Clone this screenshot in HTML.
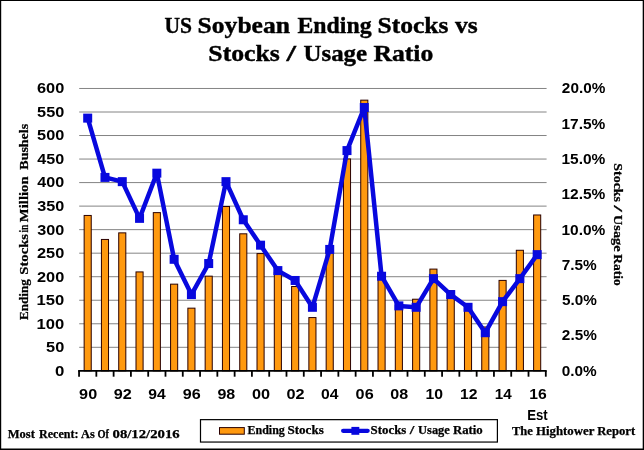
<!DOCTYPE html>
<html lang="en">
<head>
<meta charset="utf-8">
<title>US Soybean Ending Stocks vs Stocks / Usage Ratio</title>
<style>
html,body{margin:0;padding:0;background:#fff;}
body{width:644px;height:450px;overflow:hidden;}
svg{display:block;}
text{font-kerning:none;white-space:pre;}
.t{font-family:"Liberation Serif",serif;font-weight:bold;fill:#000;}
.h{stroke:#000;stroke-width:0.4px;}
.b{stroke:#000;stroke-width:0.25px;}
.n{font-family:"Liberation Sans",sans-serif;font-weight:bold;fill:#000;}
</style>
</head>
<body>
<svg width="644" height="450" viewBox="0 0 644 450">
<rect x="0" y="0" width="644" height="450" fill="#fff"/>
<g stroke="#848484" stroke-width="1">
<line x1="79.2" y1="347.30" x2="546.6" y2="347.30"/>
<line x1="79.2" y1="323.77" x2="546.6" y2="323.77"/>
<line x1="79.2" y1="300.24" x2="546.6" y2="300.24"/>
<line x1="79.2" y1="276.71" x2="546.6" y2="276.71"/>
<line x1="79.2" y1="253.18" x2="546.6" y2="253.18"/>
<line x1="79.2" y1="229.65" x2="546.6" y2="229.65"/>
<line x1="79.2" y1="206.12" x2="546.6" y2="206.12"/>
<line x1="79.2" y1="182.59" x2="546.6" y2="182.59"/>
<line x1="79.2" y1="159.06" x2="546.6" y2="159.06"/>
<line x1="79.2" y1="135.53" x2="546.6" y2="135.53"/>
<line x1="79.2" y1="112.00" x2="546.6" y2="112.00"/>
<line x1="79.2" y1="88.47" x2="546.6" y2="88.47"/>
</g>
<g fill="#ff990f" stroke="#2a0000" stroke-width="1">
<rect x="84.14" y="215.45" width="7.1" height="155.38"/>
<rect x="101.43" y="239.45" width="7.1" height="131.38"/>
<rect x="118.72" y="232.86" width="7.1" height="137.97"/>
<rect x="136.00" y="271.92" width="7.1" height="98.91"/>
<rect x="153.29" y="212.63" width="7.1" height="158.20"/>
<rect x="170.58" y="284.16" width="7.1" height="86.67"/>
<rect x="187.87" y="308.16" width="7.1" height="62.67"/>
<rect x="205.15" y="276.16" width="7.1" height="94.67"/>
<rect x="222.44" y="206.51" width="7.1" height="164.32"/>
<rect x="239.73" y="233.81" width="7.1" height="137.02"/>
<rect x="257.01" y="253.57" width="7.1" height="117.26"/>
<rect x="274.30" y="272.40" width="7.1" height="98.43"/>
<rect x="291.59" y="286.51" width="7.1" height="84.32"/>
<rect x="308.87" y="317.57" width="7.1" height="53.26"/>
<rect x="326.16" y="249.81" width="7.1" height="121.02"/>
<rect x="343.45" y="158.98" width="7.1" height="211.85"/>
<rect x="360.74" y="100.16" width="7.1" height="270.67"/>
<rect x="378.02" y="273.81" width="7.1" height="97.02"/>
<rect x="395.31" y="305.34" width="7.1" height="65.49"/>
<rect x="412.60" y="299.22" width="7.1" height="71.61"/>
<rect x="429.88" y="269.10" width="7.1" height="101.73"/>
<rect x="447.17" y="290.75" width="7.1" height="80.08"/>
<rect x="464.46" y="303.93" width="7.1" height="66.90"/>
<rect x="481.74" y="326.98" width="7.1" height="43.85"/>
<rect x="499.03" y="280.40" width="7.1" height="90.43"/>
<rect x="516.32" y="250.28" width="7.1" height="120.55"/>
<rect x="533.61" y="214.98" width="7.1" height="155.85"/>
</g>
<g stroke="#000" stroke-width="1.8">
<line x1="78.15" y1="370.83" x2="546.7" y2="370.83"/>
<line x1="79.05" y1="370.83" x2="79.05" y2="376.7"/>
<line x1="96.34" y1="370.83" x2="96.34" y2="376.7"/>
<line x1="113.62" y1="370.83" x2="113.62" y2="376.7"/>
<line x1="130.91" y1="370.83" x2="130.91" y2="376.7"/>
<line x1="148.20" y1="370.83" x2="148.20" y2="376.7"/>
<line x1="165.49" y1="370.83" x2="165.49" y2="376.7"/>
<line x1="182.77" y1="370.83" x2="182.77" y2="376.7"/>
<line x1="200.06" y1="370.83" x2="200.06" y2="376.7"/>
<line x1="217.35" y1="370.83" x2="217.35" y2="376.7"/>
<line x1="234.63" y1="370.83" x2="234.63" y2="376.7"/>
<line x1="251.92" y1="370.83" x2="251.92" y2="376.7"/>
<line x1="269.21" y1="370.83" x2="269.21" y2="376.7"/>
<line x1="286.49" y1="370.83" x2="286.49" y2="376.7"/>
<line x1="303.78" y1="370.83" x2="303.78" y2="376.7"/>
<line x1="321.07" y1="370.83" x2="321.07" y2="376.7"/>
<line x1="338.36" y1="370.83" x2="338.36" y2="376.7"/>
<line x1="355.64" y1="370.83" x2="355.64" y2="376.7"/>
<line x1="372.93" y1="370.83" x2="372.93" y2="376.7"/>
<line x1="390.22" y1="370.83" x2="390.22" y2="376.7"/>
<line x1="407.50" y1="370.83" x2="407.50" y2="376.7"/>
<line x1="424.79" y1="370.83" x2="424.79" y2="376.7"/>
<line x1="442.08" y1="370.83" x2="442.08" y2="376.7"/>
<line x1="459.36" y1="370.83" x2="459.36" y2="376.7"/>
<line x1="476.65" y1="370.83" x2="476.65" y2="376.7"/>
<line x1="493.94" y1="370.83" x2="493.94" y2="376.7"/>
<line x1="511.22" y1="370.83" x2="511.22" y2="376.7"/>
<line x1="528.51" y1="370.83" x2="528.51" y2="376.7"/>
<line x1="545.80" y1="370.83" x2="545.80" y2="376.7"/>
</g>
<polyline points="87.69,118.12 104.98,177.41 122.27,181.65 139.55,218.36 156.84,173.18 174.13,259.30 191.42,294.59 208.70,263.53 225.99,181.65 243.28,219.77 260.56,245.18 277.85,270.59 295.14,280.47 312.42,307.30 329.71,249.42 347.00,150.59 364.29,107.53 381.57,276.24 398.86,305.89 416.15,307.30 433.43,278.64 450.72,294.59 468.01,307.30 485.29,332.71 502.58,301.65 519.87,278.64 537.16,254.64" fill="none" stroke="#0808de" stroke-width="4.5" stroke-linejoin="round" stroke-linecap="round"/>
<g fill="#0808de">
<rect x="83.19" y="113.62" width="9" height="9"/>
<rect x="100.48" y="172.91" width="9" height="9"/>
<rect x="117.77" y="177.15" width="9" height="9"/>
<rect x="135.05" y="213.86" width="9" height="9"/>
<rect x="152.34" y="168.68" width="9" height="9"/>
<rect x="169.63" y="254.80" width="9" height="9"/>
<rect x="186.92" y="290.09" width="9" height="9"/>
<rect x="204.20" y="259.03" width="9" height="9"/>
<rect x="221.49" y="177.15" width="9" height="9"/>
<rect x="238.78" y="215.27" width="9" height="9"/>
<rect x="256.06" y="240.68" width="9" height="9"/>
<rect x="273.35" y="266.09" width="9" height="9"/>
<rect x="290.64" y="275.97" width="9" height="9"/>
<rect x="307.92" y="302.80" width="9" height="9"/>
<rect x="325.21" y="244.92" width="9" height="9"/>
<rect x="342.50" y="146.09" width="9" height="9"/>
<rect x="359.79" y="103.03" width="9" height="9"/>
<rect x="377.07" y="271.74" width="9" height="9"/>
<rect x="394.36" y="301.39" width="9" height="9"/>
<rect x="411.65" y="302.80" width="9" height="9"/>
<rect x="428.93" y="274.14" width="9" height="9"/>
<rect x="446.22" y="290.09" width="9" height="9"/>
<rect x="463.51" y="302.80" width="9" height="9"/>
<rect x="480.79" y="328.21" width="9" height="9"/>
<rect x="498.08" y="297.15" width="9" height="9"/>
<rect x="515.37" y="274.14" width="9" height="9"/>
<rect x="532.66" y="250.14" width="9" height="9"/>
</g>
<text class="n" font-size="15.5" x="54.93" y="375.73" textLength="9.36" lengthAdjust="spacingAndGlyphs">0</text>
<text class="n" font-size="15.5" x="46.10" y="352.20" textLength="18.17" lengthAdjust="spacingAndGlyphs">50</text>
<text class="n" font-size="15.5" x="36.55" y="328.67" textLength="27.73" lengthAdjust="spacingAndGlyphs">100</text>
<text class="n" font-size="15.5" x="36.55" y="305.14" textLength="27.73" lengthAdjust="spacingAndGlyphs">150</text>
<text class="n" font-size="15.5" x="37.03" y="281.61" textLength="27.24" lengthAdjust="spacingAndGlyphs">200</text>
<text class="n" font-size="15.5" x="37.03" y="258.08" textLength="27.24" lengthAdjust="spacingAndGlyphs">250</text>
<text class="n" font-size="15.5" x="37.23" y="234.55" textLength="27.04" lengthAdjust="spacingAndGlyphs">300</text>
<text class="n" font-size="15.5" x="37.23" y="211.02" textLength="27.04" lengthAdjust="spacingAndGlyphs">350</text>
<text class="n" font-size="15.5" x="37.36" y="187.49" textLength="26.91" lengthAdjust="spacingAndGlyphs">400</text>
<text class="n" font-size="15.5" x="37.36" y="163.96" textLength="26.91" lengthAdjust="spacingAndGlyphs">450</text>
<text class="n" font-size="15.5" x="37.10" y="140.43" textLength="27.17" lengthAdjust="spacingAndGlyphs">500</text>
<text class="n" font-size="15.5" x="37.10" y="116.90" textLength="27.17" lengthAdjust="spacingAndGlyphs">550</text>
<text class="n" font-size="15.5" x="37.00" y="93.37" textLength="27.27" lengthAdjust="spacingAndGlyphs">600</text>
<text class="n" font-size="15.5" x="561.79" y="375.73" textLength="35.01" lengthAdjust="spacingAndGlyphs">0.0%</text>
<text class="n" font-size="15.5" x="561.87" y="340.43" textLength="34.94" lengthAdjust="spacingAndGlyphs">2.5%</text>
<text class="n" font-size="15.5" x="561.93" y="305.14" textLength="34.87" lengthAdjust="spacingAndGlyphs">5.0%</text>
<text class="n" font-size="15.5" x="561.74" y="269.84" textLength="35.07" lengthAdjust="spacingAndGlyphs">7.5%</text>
<text class="n" font-size="15.5" x="561.43" y="234.55" textLength="43.88" lengthAdjust="spacingAndGlyphs">10.0%</text>
<text class="n" font-size="15.5" x="561.43" y="199.25" textLength="43.88" lengthAdjust="spacingAndGlyphs">12.5%</text>
<text class="n" font-size="15.5" x="561.43" y="163.96" textLength="43.88" lengthAdjust="spacingAndGlyphs">15.0%</text>
<text class="n" font-size="15.5" x="561.43" y="128.66" textLength="43.88" lengthAdjust="spacingAndGlyphs">17.5%</text>
<text class="n" font-size="15.5" x="561.87" y="93.37" textLength="43.43" lengthAdjust="spacingAndGlyphs">20.0%</text>
<text class="n" font-size="15.5" x="79.13" y="398.80" textLength="18.03" lengthAdjust="spacingAndGlyphs">90</text>
<text class="n" font-size="15.5" x="113.71" y="398.80" textLength="18.01" lengthAdjust="spacingAndGlyphs">92</text>
<text class="n" font-size="15.5" x="148.30" y="398.80" textLength="17.43" lengthAdjust="spacingAndGlyphs">94</text>
<text class="n" font-size="15.5" x="182.86" y="398.80" textLength="17.94" lengthAdjust="spacingAndGlyphs">96</text>
<text class="n" font-size="15.5" x="217.43" y="398.80" textLength="17.85" lengthAdjust="spacingAndGlyphs">98</text>
<text class="n" font-size="15.5" x="251.92" y="398.80" textLength="18.11" lengthAdjust="spacingAndGlyphs">00</text>
<text class="n" font-size="15.5" x="286.49" y="398.80" textLength="18.09" lengthAdjust="spacingAndGlyphs">02</text>
<text class="n" font-size="15.5" x="321.09" y="398.80" textLength="17.51" lengthAdjust="spacingAndGlyphs">04</text>
<text class="n" font-size="15.5" x="355.64" y="398.80" textLength="18.03" lengthAdjust="spacingAndGlyphs">06</text>
<text class="n" font-size="15.5" x="390.22" y="398.80" textLength="17.93" lengthAdjust="spacingAndGlyphs">08</text>
<text class="n" font-size="15.5" x="425.54" y="398.80" textLength="17.54" lengthAdjust="spacingAndGlyphs">10</text>
<text class="n" font-size="15.5" x="460.12" y="398.80" textLength="17.52" lengthAdjust="spacingAndGlyphs">12</text>
<text class="n" font-size="15.5" x="494.72" y="398.80" textLength="16.94" lengthAdjust="spacingAndGlyphs">14</text>
<text class="n" font-size="15.5" x="529.27" y="398.80" textLength="17.46" lengthAdjust="spacingAndGlyphs">16</text>
<text class="n" font-size="15.5" x="527.22" y="419.70" textLength="20.54" lengthAdjust="spacingAndGlyphs">Est</text>
<text class="t h" font-size="24" x="164.56" y="32.80" textLength="27.55" lengthAdjust="spacingAndGlyphs">US</text>
<text class="t h" font-size="24" x="197.64" y="32.80" textLength="92.35" lengthAdjust="spacingAndGlyphs">Soybean</text>
<text class="t h" font-size="24" x="297.49" y="32.80" textLength="74.04" lengthAdjust="spacingAndGlyphs">Ending</text>
<text class="t h" font-size="24" x="377.44" y="32.80" textLength="71.09" lengthAdjust="spacingAndGlyphs">Stocks</text>
<text class="t h" font-size="24" x="455.00" y="32.80" textLength="22.72" lengthAdjust="spacingAndGlyphs">vs</text>
<text class="t h" font-size="24" x="208.33" y="61.00" textLength="71.55" lengthAdjust="spacingAndGlyphs">Stocks</text>
<text class="t h" font-size="24" x="286.43" y="61.00" textLength="9.51" lengthAdjust="spacingAndGlyphs">/</text>
<text class="t h" font-size="24" x="303.48" y="61.00" textLength="63.67" lengthAdjust="spacingAndGlyphs">Usage</text>
<text class="t h" font-size="24" x="373.46" y="61.00" textLength="59.81" lengthAdjust="spacingAndGlyphs">Ratio</text>
<g transform="translate(27.9,320.0) rotate(-90)">
<text class="t b" font-size="13" x="0.08" y="0.00" textLength="40.75" lengthAdjust="spacingAndGlyphs">Ending</text>
<text class="t b" font-size="13" x="45.32" y="0.00" textLength="40.74" lengthAdjust="spacingAndGlyphs">Stocks</text>
<text class="t b" font-size="13" x="87.39" y="0.00" textLength="7.95" lengthAdjust="spacingAndGlyphs">in</text>
<text class="t b" font-size="13" x="97.85" y="0.00" textLength="45.77" lengthAdjust="spacingAndGlyphs">Million</text>
<text class="t b" font-size="13" x="150.37" y="0.00" textLength="45.77" lengthAdjust="spacingAndGlyphs">Bushels</text>
</g>
<g transform="translate(614,163.0) rotate(90)">
<text class="t b" font-size="13" x="0.36" y="0.00" textLength="38.68" lengthAdjust="spacingAndGlyphs">Stocks</text>
<text class="t b" font-size="13" x="42.33" y="0.00" textLength="6.62" lengthAdjust="spacingAndGlyphs">/</text>
<text class="t b" font-size="13" x="51.84" y="0.00" textLength="36.93" lengthAdjust="spacingAndGlyphs">Usage</text>
<text class="t b" font-size="13" x="91.27" y="0.00" textLength="31.44" lengthAdjust="spacingAndGlyphs">Ratio</text>
</g>
<text class="t b" font-size="11.6" x="7.69" y="437.60" textLength="27.12" lengthAdjust="spacingAndGlyphs">Most</text>
<text class="t b" font-size="11.6" x="39.09" y="437.60" textLength="39.38" lengthAdjust="spacingAndGlyphs">Recent:</text>
<text class="t b" font-size="11.6" x="81.08" y="437.60" textLength="13.72" lengthAdjust="spacingAndGlyphs">As</text>
<text class="t b" font-size="11.6" x="97.39" y="437.60" textLength="11.50" lengthAdjust="spacingAndGlyphs">Of</text>
<text class="t b" font-size="11.6" x="112.54" y="437.60" textLength="67.19" lengthAdjust="spacingAndGlyphs">08/12/2016</text>
<text class="t b" font-size="11.6" x="512.00" y="434.70" textLength="20.92" lengthAdjust="spacingAndGlyphs">The</text>
<text class="t b" font-size="11.6" x="536.08" y="434.70" textLength="58.29" lengthAdjust="spacingAndGlyphs">Hightower</text>
<text class="t b" font-size="11.6" x="597.18" y="434.70" textLength="38.02" lengthAdjust="spacingAndGlyphs">Report</text>
<rect x="200.5" y="419.65" width="296.9" height="22.4" fill="#fff" stroke="#000" stroke-width="1.2"/>
<rect x="219.5" y="427.6" width="24.8" height="6.6" fill="#ff990f" stroke="#2a0000" stroke-width="1"/>
<text class="t b" font-size="11.6" x="247.50" y="433.80" textLength="37.32" lengthAdjust="spacingAndGlyphs">Ending</text>
<text class="t b" font-size="11.6" x="287.51" y="433.80" textLength="36.21" lengthAdjust="spacingAndGlyphs">Stocks</text>
<line x1="343.1" y1="430.8" x2="367.7" y2="430.8" stroke="#0808de" stroke-width="4.2" stroke-linecap="round"/>
<rect x="351.4" y="426.9" width="7.9" height="7.9" fill="#0808de"/>
<text class="t b" font-size="11.6" x="370.62" y="433.80" textLength="35.70" lengthAdjust="spacingAndGlyphs">Stocks</text>
<text class="t b" font-size="11.6" x="409.76" y="433.80" textLength="4.57" lengthAdjust="spacingAndGlyphs">/</text>
<text class="t b" font-size="11.6" x="418.14" y="433.80" textLength="31.68" lengthAdjust="spacingAndGlyphs">Usage</text>
<text class="t b" font-size="11.6" x="452.98" y="433.80" textLength="29.80" lengthAdjust="spacingAndGlyphs">Ratio</text>
<rect x="0" y="0" width="644" height="1" fill="#000"/>
<rect x="0" y="0" width="1.2" height="450" fill="#000"/>
<rect x="642.7" y="0" width="1.3" height="450" fill="#000"/>
<rect x="0" y="448.5" width="644" height="1.5" fill="#000"/>
</svg>
</body>
</html>
